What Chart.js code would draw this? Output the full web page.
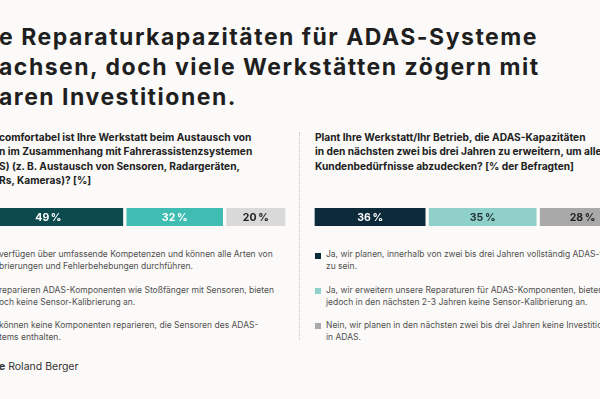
<!DOCTYPE html>
<html>
<head>
<meta charset="utf-8">
<script src="https://cdn.jsdelivr.net/npm/chart.js@4.4.1/dist/chart.umd.min.js"></script>
<style>
  html, body { margin: 0; padding: 0; }
  body { width: 600px; height: 399px; overflow: hidden; background: #fbfaf8; position: relative;
         font-family: "Inter", "DejaVu Sans", sans-serif; color: #222; }
  .abs { position: absolute; white-space: nowrap; }
  .title { left: -1px; top: 22px; font-size: 23px; font-weight: 700; line-height: 30px; letter-spacing: 1.5px; color: #1f1f1f; }
  .q { font-size: 10.2px; font-weight: 700; line-height: 14.4px; color: #222; }
  .leg { font-size: 8.5px; line-height: 12px; color: #505050; }
  .sq { position: absolute; width: 6px; height: 6px; }
  .sep { position: absolute; left: 299px; top: 132px; height: 208px; border-left: 1.5px dotted #c8c8c8; }
  .bar { position: absolute; }
</style>
</head>
<body>
<div class="abs title">e Reparaturkapazitäten für ADAS-Systeme<br>achsen, doch viele Werkstätten zögern mit<br>aren Investitionen.</div>

<div class="abs q" style="left:-1px; top:130px;">comfortabel ist Ihre Werkstatt beim Austausch von<br>n im Zusammenhang mit Fahrerassistenzsystemen<br>S) (z. B. Austausch von Sensoren, Radargeräten,<br>Rs, Kameras)? [%]</div>

<div class="abs q" style="left:315px; top:130px;">Plant Ihre Werkstatt/Ihr Betrieb, die ADAS-Kapazitäten<br>in den nächsten zwei bis drei Jahren zu erweitern, um alle<br>Kundenbedürfnisse abzudecken? [% der Befragten]</div>

<div class="sep"></div>

<div class="bar" style="left:-28px; top:208px; width:315px; height:18px;"><canvas id="leftChart"></canvas></div>
<div class="bar" style="left:313px; top:208px; width:314px; height:18px;"><canvas id="rightChart"></canvas></div>

<div class="abs leg" style="left:-1px; top:248px;">verfügen über umfassende Kompetenzen und können alle Arten von<br>brierungen und Fehlerbehebungen durchführen.</div>
<div class="abs leg" style="left:-1px; top:284px;">reparieren ADAS-Komponenten wie Stoßfänger mit Sensoren, bieten<br>och keine Sensor-Kalibrierung an.</div>
<div class="abs leg" style="left:-1px; top:319px;">können keine Komponenten reparieren, die Sensoren des ADAS-<br>tems enthalten.</div>

<div class="sq" style="left:315px; top:253px; background:#0d2a3a;"></div>
<div class="abs leg" style="left:326px; top:248px;">Ja, wir planen, innerhalb von zwei bis drei Jahren vollständig ADAS-fähig<br>zu sein.</div>
<div class="sq" style="left:315px; top:288px; background:#8fd1c8;"></div>
<div class="abs leg" style="left:326px; top:284px;">Ja, wir erweitern unsere Reparaturen für ADAS-Komponenten, bieten<br>jedoch in den nächsten 2-3 Jahren keine Sensor-Kalibrierung an.</div>
<div class="sq" style="left:315px; top:323px; background:#aaaaaa;"></div>
<div class="abs leg" style="left:326px; top:319px;">Nein, wir planen in den nächsten zwei bis drei Jahren keine Investitionen<br>in ADAS.</div>

<div class="abs" style="left:-1px; top:361px; font-size:10.5px; line-height:12px; color:#333;"><b>e</b> Roland Berger</div>

<script>
// left question: comfort with ADAS component replacement
const leftLabels = ['umfassend', 'nur Komponenten', 'keine'];
const leftValues = [49, 32, 20];
const leftColors = ['#0c4a4d', '#3fbdb3', '#d9d9d9'];
const leftTextColors = ['#ffffff', '#ffffff', '#222222'];

// right question: plans to expand ADAS capacity
const rightLabels = ['voll ADAS-fähig', 'Reparaturen erweitern', 'keine Investitionen'];
const rightValues = [36, 35, 28];
const rightColors = ['#0d2a3a', '#8fd1c8', '#a9a9a9'];
const rightTextColors = ['#ffffff', '#1f2f35', '#222222'];

const bg = '#fbfaf8';

const pctLabels = {
  id: 'pctLabels',
  afterDatasetsDraw(chart, args, opts) {
    const ctx = chart.ctx;
    ctx.save();
    ctx.font = 'bold 10.5px Inter, "DejaVu Sans", sans-serif';
    ctx.textAlign = 'center';
    ctx.textBaseline = 'middle';
    chart.data.datasets.forEach((ds, i) => {
      const el = chart.getDatasetMeta(i).data[0];
      ctx.fillStyle = opts.colors[i];
      ctx.fillText(ds.data[0] + '\u2009%', (el.base + el.x) / 2, el.y + 0.5);
    });
    ctx.restore();
  }
};

function makeBar(id, labels, values, colors, textColors) {
  const total = values.reduce((a, b) => a + b, 0);
  return new Chart(document.getElementById(id), {
    type: 'bar',
    data: {
      labels: [''],
      datasets: labels.map((l, i) => ({
        label: l,
        data: [values[i]],
        backgroundColor: colors[i],
        borderColor: bg,
        borderWidth: { left: 2, right: 2, top: 0, bottom: 0 },
        borderSkipped: false,
        barPercentage: 1,
        categoryPercentage: 1
      }))
    },
    options: {
      indexAxis: 'y',
      responsive: true,
      maintainAspectRatio: false,
      animation: false,
      layout: { padding: 0 },
      scales: {
        x: { stacked: true, display: false, min: 0, max: total },
        y: { stacked: true, display: false }
      },
      plugins: {
        legend: { display: false },
        tooltip: { enabled: false },
        pctLabels: { colors: textColors }
      }
    },
    plugins: [pctLabels]
  });
}

makeBar('leftChart', leftLabels, leftValues, leftColors, leftTextColors);
makeBar('rightChart', rightLabels, rightValues, rightColors, rightTextColors);
</script>
</body>
</html>
